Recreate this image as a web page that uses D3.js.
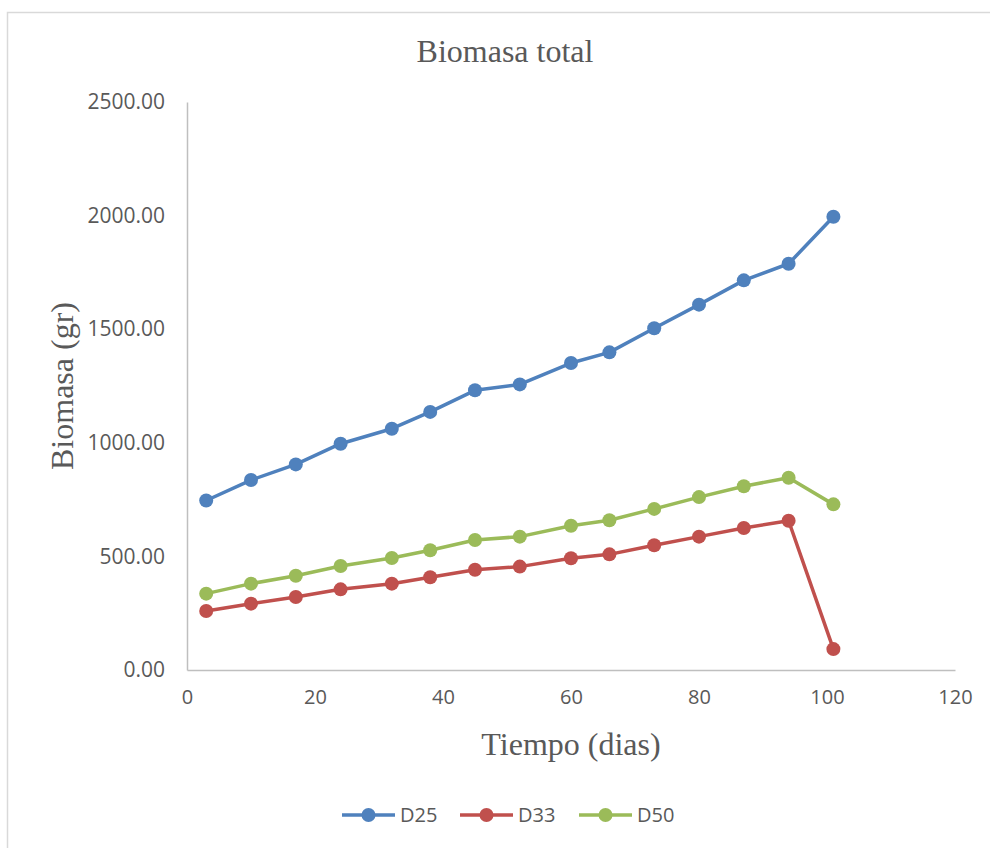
<!DOCTYPE html>
<html>
<head>
<meta charset="utf-8">
<script src="https://cdn.jsdelivr.net/npm/d3@7"></script>
<style>
  html, body { margin: 0; padding: 0; background: #fff; }
  svg { display: block; }
</style>
</head>
<body>
<svg id="chart" width="990" height="848"></svg>
<script>
// Sampling days (x) and total biomass per density treatment (grams)
const days = [3, 10, 17, 24, 32, 38, 45, 52, 60, 66, 73, 80, 87, 94, 101];
const d25 = [746, 836, 905, 996, 1062, 1136, 1231, 1257, 1351, 1398, 1504, 1608, 1715, 1788, 1995];
const d33 = [260, 292, 321, 355, 380, 408, 441, 455, 492, 509, 549, 587, 625, 657, 92];
const d50 = [336, 380, 415, 458, 493, 527, 572, 587, 635, 659, 709, 761, 809, 846, 729];
const seriesNames = ["D25", "D33", "D50"];
const seriesColors = ["#4f81bd", "#c0504d", "#9bbb59"];
const xTicks = [0, 20, 40, 60, 80, 100, 120];
const yTicks = [0, 500, 1000, 1500, 2000, 2500];

const series = [d25, d33, d50].map((vals, i) => ({
  name: seriesNames[i],
  color: seriesColors[i],
  points: days.map((d, j) => ({ x: d, y: vals[j] }))
}));

const svg = d3.select("#chart");
const plot = { left: 187, right: 955, top: 102, bottom: 670 };

const x = d3.scaleLinear().domain([0, 120]).range([plot.left, plot.right]);
const y = d3.scaleLinear().domain([0, 2500]).range([plot.bottom, plot.top]);

// chart frame
svg.append("rect")
  .attr("x", 7.5).attr("y", 12.5)
  .attr("width", 1000).attr("height", 860)
  .attr("fill", "#fff").attr("stroke", "#d9d9d9").attr("stroke-width", 1.5);

const tickFont = "'Open Sans', 'Liberation Sans', sans-serif";
const serif = "'Liberation Serif', 'DejaVu Serif', serif";
const textColor = "#595959";

// axes
const xAxis = d3.axisBottom(x).tickValues(xTicks).tickSize(0).tickPadding(20);
const yAxis = d3.axisLeft(y).tickValues(yTicks).tickSize(0).tickPadding(22)
  .tickFormat(d3.format(".2f"));

const gx = svg.append("g").attr("transform", `translate(0,${plot.bottom})`).call(xAxis);
const gy = svg.append("g").attr("transform", `translate(${plot.left},0)`).call(yAxis);

[gx, gy].forEach(g => {
  g.select(".domain").attr("stroke", "#bfbfbf").attr("stroke-width", 1.5);
  g.selectAll(".tick text")
    .attr("fill", textColor)
    .style("font-family", tickFont);
});
gy.selectAll(".tick text").style("font-size", "21px");
gx.selectAll(".tick text").style("font-size", "20px").attr("dy", "0.68em");

// series lines and markers
const line = d3.line().x(d => x(d.x)).y(d => y(d.y));
series.forEach(s => {
  const g = svg.append("g");
  g.append("path")
    .datum(s.points)
    .attr("d", line)
    .attr("fill", "none")
    .attr("stroke", s.color)
    .attr("stroke-width", 3.5)
    .attr("stroke-linejoin", "round");
  g.selectAll("circle")
    .data(s.points)
    .join("circle")
    .attr("cx", d => x(d.x))
    .attr("cy", d => y(d.y))
    .attr("r", 7)
    .attr("fill", s.color);
});

// titles
svg.append("text")
  .attr("x", 505).attr("y", 62)
  .attr("text-anchor", "middle")
  .attr("fill", textColor)
  .style("font-family", serif)
  .style("font-size", "32px")
  .text("Biomasa total");

svg.append("text")
  .attr("x", 571).attr("y", 755)
  .attr("text-anchor", "middle")
  .attr("fill", textColor)
  .style("font-family", serif)
  .style("font-size", "32px")
  .text("Tiempo (dias)");

svg.append("text")
  .attr("transform", "translate(73,386) rotate(-90)")
  .attr("text-anchor", "middle")
  .attr("fill", textColor)
  .style("font-family", serif)
  .style("font-size", "32px")
  .text("Biomasa (gr)");

// legend
const legendX = [342, 460, 579];
series.forEach((s, i) => {
  const g = svg.append("g").attr("transform", `translate(${legendX[i]},815)`);
  g.append("line")
    .attr("x1", 0).attr("x2", 53)
    .attr("stroke", s.color).attr("stroke-width", 3.5);
  g.append("circle").attr("cx", 26.5).attr("cy", 0).attr("r", 7).attr("fill", s.color);
  g.append("text")
    .attr("x", 58).attr("y", 0).attr("dy", "0.35em")
    .attr("fill", textColor)
    .style("font-family", tickFont)
    .style("font-size", "20px")
    .text(s.name);
});
</script>
</body>
</html>
